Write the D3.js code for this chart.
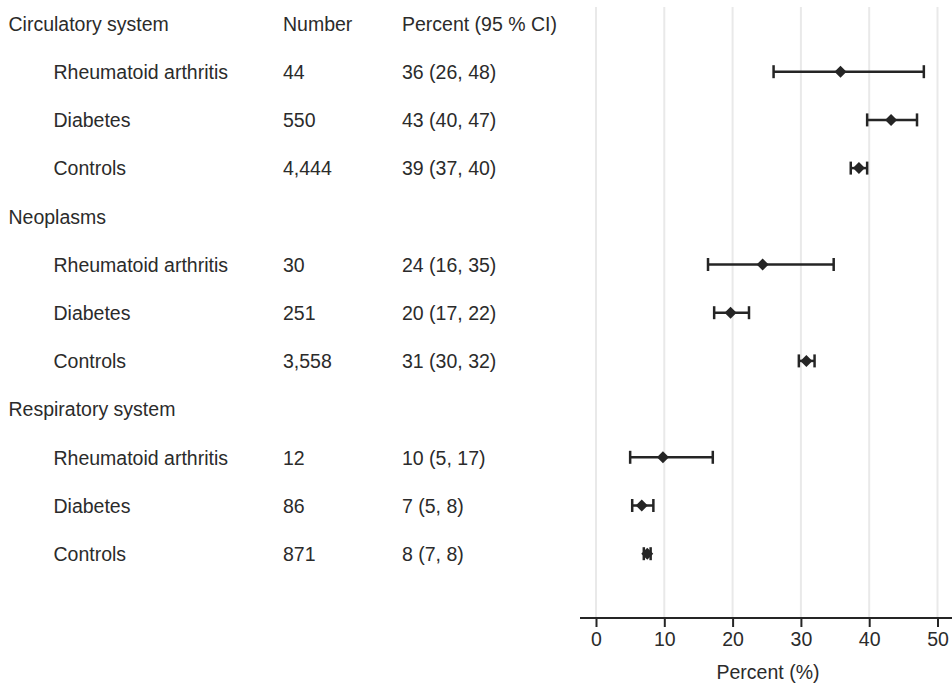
<!DOCTYPE html>
<html>
<head>
<meta charset="utf-8">
<script src="https://cdn.jsdelivr.net/npm/d3@7"></script>
<style>
  html, body { margin: 0; padding: 0; background: #fff; }
  svg { display: block; }
</style>
</head>
<body>
<svg id="chart" width="952" height="683"></svg>
<script>
// ---- data ----
const groups = ["Circulatory system", "Neoplasms", "Respiratory system"];
const subgroups = ["Rheumatoid arthritis", "Diabetes", "Controls"];
const numbers = [[44, 550, 4444], [30, 251, 3558], [12, 86, 871]];
const estimates = [[35.8, 43.2, 38.5], [24.4, 19.7, 30.8], [9.8, 6.7, 7.5]];
const lower = [[26.0, 39.7, 37.3], [16.4, 17.3, 29.7], [5.0, 5.3, 7.0]];
const upper = [[48.0, 47.0, 39.7], [34.8, 22.4, 32.0], [17.1, 8.4, 8.0]];
const percentLabels = [
  ["36 (26, 48)", "43 (40, 47)", "39 (37, 40)"],
  ["24 (16, 35)", "20 (17, 22)", "31 (30, 32)"],
  ["10 (5, 17)", "7 (5, 8)", "8 (7, 8)"]
];
const xTicks = [0, 10, 20, 30, 40, 50];
const headerNumber = "Number";
const headerPercent = "Percent (95 % CI)";
const xTitle = "Percent (%)";

// ---- build rows ----
const rows = [];
groups.forEach((g, gi) => {
  rows.push({ type: "group", label: g });
  subgroups.forEach((s, si) => {
    rows.push({
      type: "item", label: s,
      n: numbers[gi][si], est: estimates[gi][si],
      lo: lower[gi][si], hi: upper[gi][si],
      pct: percentLabels[gi][si]
    });
  });
});
rows.forEach((r, i) => r.idx = i);

const svg = d3.select("#chart");
const font = "'Liberation Sans', Arial, Helvetica, sans-serif";
const textColor = "#2b2b2b";
const markColor = "#252525";
const fs = 19.5;

const x = d3.scaleLinear().domain([0, 50]).range([596, 937.5]);
const y = d3.scaleLinear().domain([0, rows.length - 1]).range([23.5, 553.7]);
const axisY = 618;

// gridlines
svg.append("g").selectAll("line").data(xTicks).join("line")
  .attr("x1", d => x(d)).attr("x2", d => x(d))
  .attr("y1", 7).attr("y2", axisY)
  .attr("stroke", "#e9e9e9").attr("stroke-width", 2);

// x axis
const axis = d3.axisBottom(x).tickValues(xTicks).tickSize(9).tickPadding(5).tickSizeOuter(0);
const gAx = svg.append("g").attr("transform", `translate(0,${axisY})`).call(axis);
gAx.select(".domain").remove();
gAx.selectAll(".tick line").attr("stroke", markColor).attr("stroke-width", 2);
gAx.selectAll(".tick text").attr("font-family", font).attr("font-size", fs)
  .attr("fill", textColor);
svg.append("line").attr("x1", 580).attr("x2", 952)
  .attr("y1", axisY).attr("y2", axisY)
  .attr("stroke", markColor).attr("stroke-width", 2);
svg.append("text").attr("x", 768).attr("y", 679)
  .attr("text-anchor", "middle").attr("font-family", font).attr("font-size", fs)
  .attr("fill", textColor).text(xTitle);

// header texts
const txt = svg.append("g").attr("font-family", font).attr("font-size", fs).attr("fill", textColor);
const dy = 7.2;
txt.append("text").attr("x", 283).attr("y", y(0) + dy).text(headerNumber);
txt.append("text").attr("x", 402).attr("y", y(0) + dy).text(headerPercent);

rows.forEach(r => {
  if (r.type === "group") {
    txt.append("text").attr("x", 8.5).attr("y", y(r.idx) + dy).text(r.label);
  } else {
    txt.append("text").attr("x", 53.5).attr("y", y(r.idx) + dy).text(r.label);
    txt.append("text").attr("x", 283).attr("y", y(r.idx) + dy).text(d3.format(",")(r.n));
    txt.append("text").attr("x", 402).attr("y", y(r.idx) + dy).text(r.pct);
  }
});

// marks
const items = rows.filter(r => r.type === "item");
const gm = svg.append("g").attr("stroke", markColor).attr("fill", markColor);
gm.selectAll("line.ci").data(items).join("line").attr("class", "ci")
  .attr("x1", d => x(d.lo)).attr("x2", d => x(d.hi))
  .attr("y1", d => y(d.idx)).attr("y2", d => y(d.idx))
  .attr("stroke-width", 2.5);
gm.selectAll("line.capl").data(items).join("line").attr("class", "capl")
  .attr("x1", d => x(d.lo)).attr("x2", d => x(d.lo))
  .attr("y1", d => y(d.idx) - 6.5).attr("y2", d => y(d.idx) + 6.5)
  .attr("stroke-width", 2.5);
gm.selectAll("line.caph").data(items).join("line").attr("class", "caph")
  .attr("x1", d => x(d.hi)).attr("x2", d => x(d.hi))
  .attr("y1", d => y(d.idx) - 6.5).attr("y2", d => y(d.idx) + 6.5)
  .attr("stroke-width", 2.5);
gm.selectAll("path.est").data(items).join("path").attr("class", "est")
  .attr("d", d3.symbol(d3.symbolSquare, 72)())
  .attr("stroke", "none")
  .attr("transform", d => `translate(${x(d.est)},${y(d.idx)}) rotate(45)`);
</script>
</body>
</html>
